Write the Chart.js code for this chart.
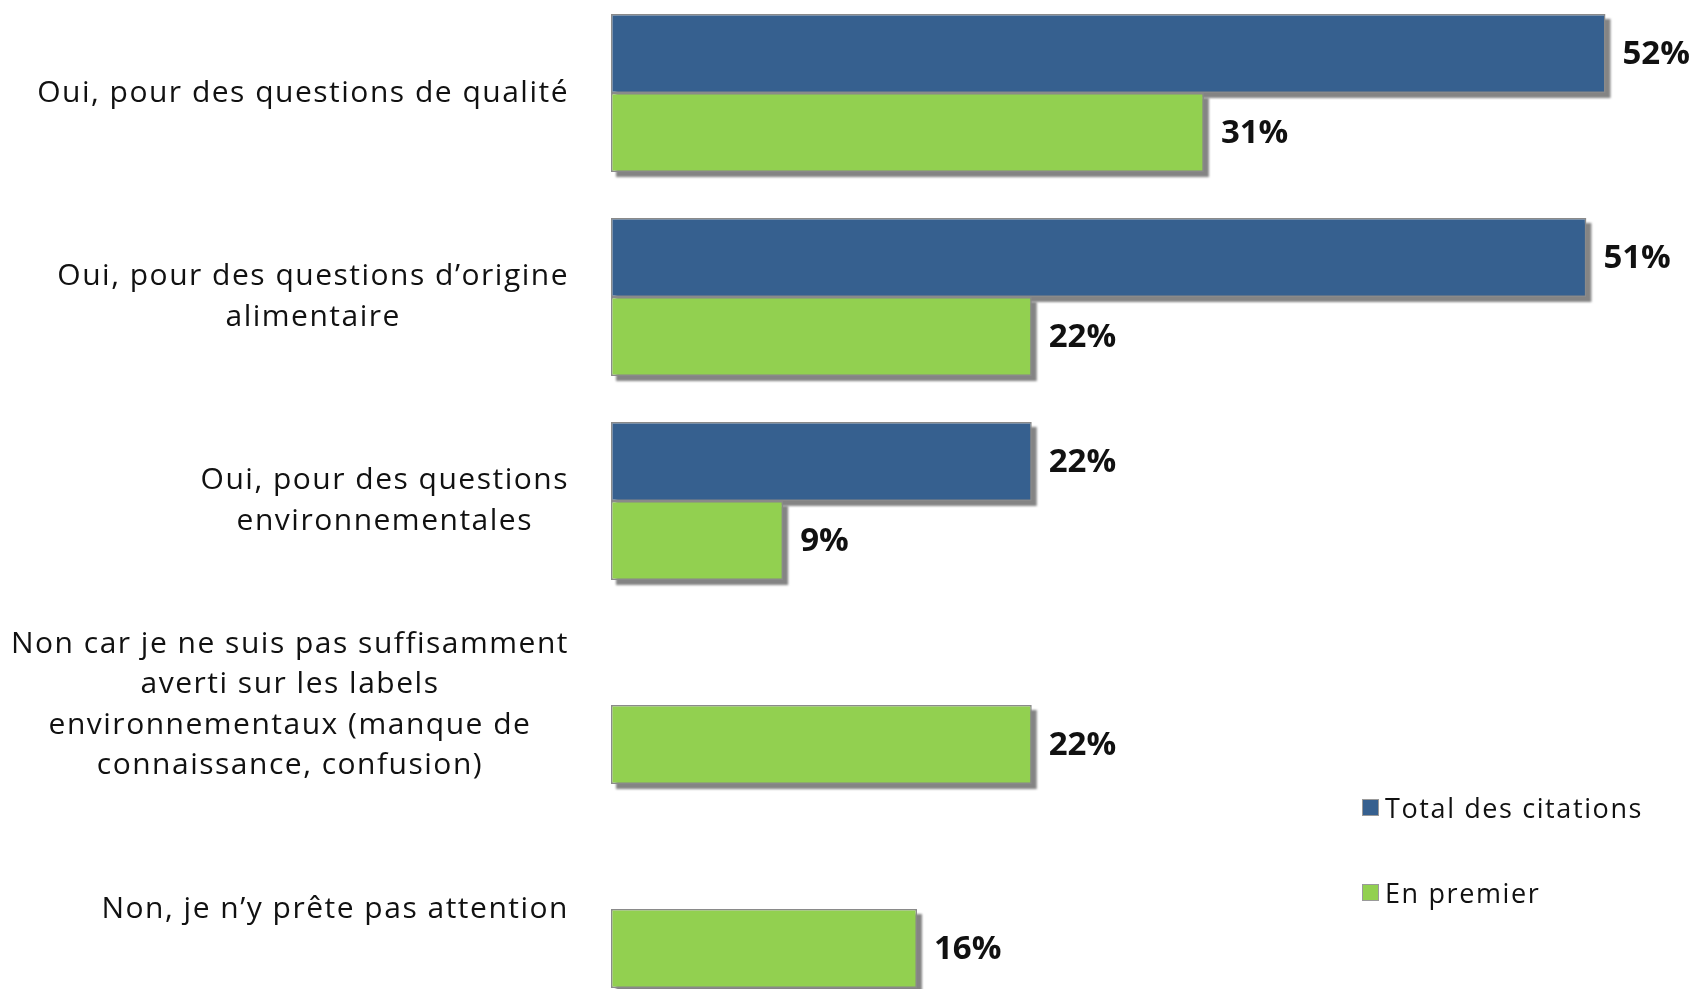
<!DOCTYPE html>
<html lang="fr">
<head>
<meta charset="utf-8">
<title>Labels environnementaux</title>
<script src="https://cdn.jsdelivr.net/npm/chart.js@4.4.1/dist/chart.umd.min.js"></script>
<style>
  html, body { margin: 0; padding: 0; background: #fff; overflow: hidden; }
  body { width: 1695px; height: 989px; position: relative; }
  #wrap { position: absolute; left: 0; top: -9px; width: 1695px; height: 1020px; }
  #legend { position: absolute; left: 1362px; top: 787px; font-family: "Open Sans", sans-serif; font-size: 27px; letter-spacing: 1.6px; color: #111; }
  .leg-item { display: flex; align-items: center; height: 40px; margin-bottom: 45px; }
  .leg-box { width: 15px; height: 15px; border: 1px solid #9a9a9a; margin-right: 6px; }
</style>
</head>
<body>
<div id="wrap"><canvas id="chart"></canvas></div>
<div id="legend"></div>

<script>
// categories (each one is a list of lines)
const categories = [
  ["Oui, pour des questions de qualité"],
  ["Oui, pour des questions d’origine", "alimentaire"],
  ["Oui, pour des questions", "environnementales"],
  ["Non car je ne suis pas suffisamment", "averti sur les labels", "environnementaux (manque de", "connaissance, confusion)"],
  ["Non, je n’y prête pas attention"]
];

// series values (%)
const totalCitations = [52, 51, 22, null, null];
const enPremier = [31, 22, 9, 22, 16];

const seriesNames = ["Total des citations", "En premier"];
const seriesColors = ["#36608f", "#92d050"];

const textColor = "#111";
const labelFont = '30px "Open Sans", sans-serif';
const valueFont = 'bold 33px "Open Sans", sans-serif';

// grey drop shadow under every bar
const barShadow = {
  id: 'barShadow',
  beforeDatasetsDraw(chart) {
    const ctx = chart.ctx;
    ctx.save();
    ctx.fillStyle = 'rgba(110,110,110,0.85)';
    ctx.filter = 'blur(1px)';
    chart.data.datasets.forEach((ds, i) => {
      chart.getDatasetMeta(i).data.forEach((bar, j) => {
        if (ds.data[j] == null) return;
        const p = bar.getProps(['x', 'y', 'base', 'height'], true);
        ctx.fillRect(Math.min(p.x, p.base) + 5, p.y - p.height / 2 + 5, Math.abs(p.x - p.base), p.height);
      });
    });
    ctx.restore();
  }
};

// percentage next to each bar
const valueLabels = {
  id: 'valueLabels',
  afterDatasetsDraw(chart) {
    const ctx = chart.ctx;
    ctx.save();
    ctx.font = valueFont;
    ctx.fillStyle = textColor;
    ctx.textAlign = 'left';
    ctx.textBaseline = 'middle';
    chart.data.datasets.forEach((ds, i) => {
      chart.getDatasetMeta(i).data.forEach((bar, j) => {
        const v = ds.data[j];
        if (v == null) return;
        ctx.fillText(v + '%', bar.x + 17, bar.y + 1);
      });
    });
    ctx.restore();
  }
};

// category labels: block right aligned, lines centered inside the block
const catLabels = {
  id: 'catLabels',
  afterDraw(chart) {
    const ctx = chart.ctx;
    const scale = chart.scales.y;
    const right = 569, lineH = 40.5;
    ctx.save();
    ctx.font = labelFont;
    ctx.letterSpacing = '1.5px';
    ctx.fillStyle = textColor;
    ctx.textAlign = 'center';
    ctx.textBaseline = 'middle';
    categories.forEach((lines, i) => {
      const w = Math.max(...lines.map(l => ctx.measureText(l).width));
      const cx = right - w / 2;
      const cy = scale.getPixelForTick(i);
      const top = cy - (lines.length - 1) * lineH / 2;
      lines.forEach((l, k) => ctx.fillText(l, cx, top + k * lineH));
    });
    ctx.restore();
  }
};

const chart = new Chart('chart', {
  type: 'bar',
  data: {
    labels: categories,
    datasets: [
      {
        label: seriesNames[0],
        data: totalCitations,
        backgroundColor: seriesColors[0],
        borderColor: '#8a8a8a',
        borderWidth: 1.5,
        borderSkipped: false
      },
      {
        label: seriesNames[1],
        data: enPremier,
        backgroundColor: seriesColors[1],
        borderColor: '#8a8a8a',
        borderWidth: 1.5,
        borderSkipped: false
      }
    ]
  },
  options: {
    indexAxis: 'y',
    responsive: true,
    maintainAspectRatio: false,
    animation: false,
    layout: { padding: { left: 0, right: 13, top: 0, bottom: 0 } },
    datasets: {
      bar: { categoryPercentage: 0.775, barPercentage: 1 }
    },
    scales: {
      x: { min: 0, max: 56, display: false },
      y: {
        grid: { display: false },
        border: { display: false },
        ticks: { display: false },
        afterFit(scale) { scale.width = 611; }
      }
    },
    plugins: {
      legend: { display: false },
      tooltip: { enabled: false }
    }
  },
  plugins: [barShadow, valueLabels, catLabels]
});

// html legend from the datasets
const legend = document.getElementById('legend');
chart.data.datasets.forEach(ds => {
  const item = document.createElement('div');
  item.className = 'leg-item';
  item.innerHTML = `<span class="leg-box" style="background:${ds.backgroundColor}"></span><span>${ds.label}</span>`;
  legend.appendChild(item);
});
</script>
</body>
</html>
